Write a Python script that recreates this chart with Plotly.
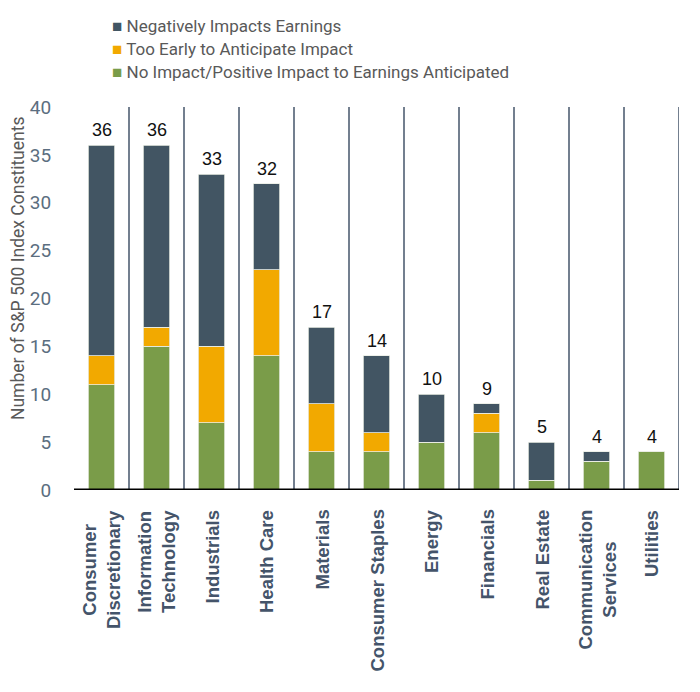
import plotly.graph_objects as go

# Sector breakdown of S&P 500 constituents by expected earnings impact
sectors = [
    "Consumer<br>Discretionary",
    "Information<br>Technology",
    "Industrials",
    "Health Care",
    "Materials",
    "Consumer Staples",
    "Energy",
    "Financials",
    "Real Estate",
    "Communication<br>Services",
    "Utilities",
]
no_impact = [11, 15, 7, 14, 4, 4, 5, 6, 1, 3, 4]
too_early = [3, 2, 8, 9, 5, 2, 0, 2, 0, 0, 0]
negative = [22, 19, 18, 9, 8, 8, 5, 1, 4, 1, 0]
totals = [a + b + c for a, b, c in zip(no_impact, too_early, negative)]

DARK = "#425563"
ORANGE = "#f2a900"
GREEN = "#7a9c49"
SLATE = "#44546a"
GREY = "#595959"
FONT = "Roboto, Arial"

fig = go.Figure()

series = [
    ("No Impact/Positive Impact to Earnings Anticipated", no_impact, GREEN),
    ("Too Early to Anticipate Impact", too_early, ORANGE),
    ("Negatively Impacts Earnings", negative, DARK),
]
for name, vals, color in series:
    fig.add_trace(
        go.Bar(
            x=list(range(len(sectors))),
            y=vals,
            name=name,
            marker=dict(color=color, line=dict(color="#e8ece4", width=0.8)),
            width=0.49,
            showlegend=False,
        )
    )

# Legend drawn as text lines (top to bottom: reverse of stack order)
for row, (name, _, color) in enumerate(reversed(series)):
    fig.add_annotation(
        xref="paper",
        yref="paper",
        x=0,
        y=1,
        xshift=36,
        yshift=81 - row * 23,
        xanchor="left",
        yanchor="middle",
        showarrow=False,
        text=f"<span style='color:{color}'>■</span> {name}",
        font=dict(size=17, color=GREY, family=FONT),
    )

# Total labels above each bar
for i, total in enumerate(totals):
    fig.add_annotation(
        x=i,
        y=total,
        text=str(total),
        showarrow=False,
        yanchor="bottom",
        yshift=3,
        font=dict(size=18, color="#111111", family="Arial"),
    )

# Rotated sector labels, lines centred on each other
for i, sector in enumerate(sectors):
    fig.add_annotation(
        x=i,
        xref="x",
        yref="paper",
        y=0,
        yshift=-18,
        yanchor="top",
        xanchor="center",
        textangle=-90,
        align="center",
        showarrow=False,
        text=f"<b>{sector}</b>",
        font=dict(size=18.5, color=SLATE, family="Arial"),
    )

# Y axis title
fig.add_annotation(
    xref="paper",
    yref="paper",
    x=0,
    y=0.577,
    xshift=-56,
    xanchor="center",
    yanchor="middle",
    textangle=-90,
    showarrow=False,
    text="Number of S&P 500 Index Constituents",
    font=dict(size=17.5, color=GREY, family=FONT),
)

# Vertical separators between sectors
for i in range(len(sectors)):
    fig.add_shape(
        type="line",
        xref="x",
        yref="y",
        x0=i + 0.5,
        x1=i + 0.5,
        y0=0,
        y1=40,
        line=dict(color=SLATE, width=1.5),
        layer="below",
    )

# Heavy baseline
fig.add_shape(
    type="line",
    xref="paper",
    yref="y",
    x0=0,
    x1=1,
    y0=0,
    y1=0,
    line=dict(color="black", width=3),
)

fig.update_layout(
    width=700,
    height=692,
    barmode="stack",
    plot_bgcolor="white",
    paper_bgcolor="white",
    showlegend=False,
    margin=dict(l=74, r=21, t=107, b=202, autoexpand=False),
    xaxis=dict(
        showticklabels=False,
        showgrid=False,
        showline=False,
        zeroline=False,
        ticks="",
        range=[-0.5, len(sectors) - 0.5],
    ),
    yaxis=dict(
        range=[0, 40],
        dtick=5,
        showgrid=False,
        zeroline=False,
        showline=False,
        ticks="outside",
        ticklen=18,
        tickcolor="white",
        tickfont=dict(size=19, color="#5b6e80", family=FONT),
    ),
)

# Drop the browser's default page margin so the figure sits at the origin
fig.write_html(
    "out.html",
    config={"displayModeBar": False},
    post_script="document.body.style.margin='0';document.body.style.overflow='hidden';",
)
